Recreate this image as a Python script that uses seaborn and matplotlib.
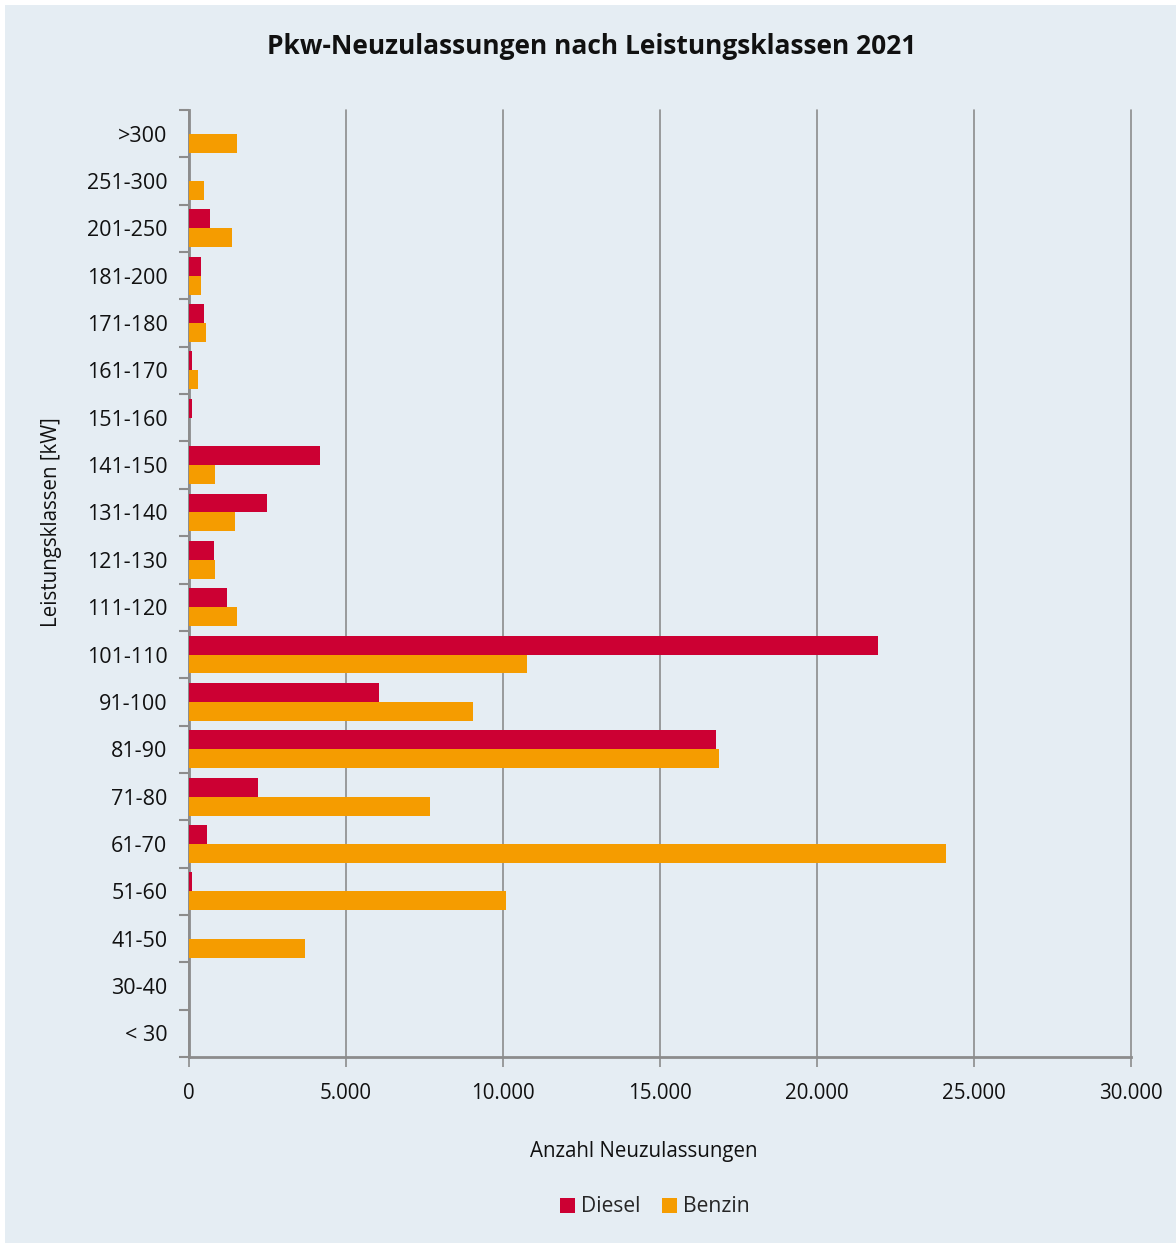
import matplotlib
matplotlib.use("Agg")
import matplotlib.pyplot as plt
from matplotlib.patches import Rectangle
from matplotlib.ticker import FuncFormatter, FixedLocator
import seaborn as sns
import pandas as pd

# Power classes, top to bottom
klassen = [">300", "251-300", "201-250", "181-200", "171-180", "161-170",
           "151-160", "141-150", "131-140", "121-130", "111-120", "101-110",
           "91-100", "81-90", "71-80", "61-70", "51-60", "41-50", "30-40", "< 30"]

diesel = [0, 0, 670, 380, 470, 100, 90, 4170, 2480, 800, 1210, 21940,
          6050, 16780, 2200, 570, 100, 0, 0, 0]
benzin = [1530, 480, 1370, 390, 540, 290, 0, 830, 1470, 830, 1530, 10760,
          9040, 16880, 7680, 24110, 10100, 3690, 0, 0]

kraftstoffe = ["Diesel", "Benzin"]
farben = {"Diesel": "#cc0033", "Benzin": "#f59c00"}

df = pd.DataFrame({
    "Leistungsklasse": klassen * 2,
    "Kraftstoff": ["Diesel"] * len(klassen) + ["Benzin"] * len(klassen),
    "Anzahl": diesel + benzin,
})

sns.set_theme(style="white")
plt.rcParams["font.family"] = ["Open Sans", "DejaVu Sans"]

bg = "#e5edf3"
grau = "#8c8c8c"

fig = plt.figure(figsize=(11.76, 12.45), dpi=100, facecolor="white")
fig.patches.append(Rectangle((5 / 1176, 2 / 1245), 1 - 5 / 1176, 1 - 7 / 1245,
                             transform=fig.transFigure, facecolor=bg,
                             edgecolor="none", zorder=-10))

ax = fig.add_axes([189 / 1176, 1 - 1057 / 1245, (1131 - 189) / 1176, (1057 - 110) / 1245])
ax.set_facecolor(bg)

sns.barplot(data=df, y="Leistungsklasse", x="Anzahl", hue="Kraftstoff",
            order=klassen, hue_order=kraftstoffe, palette=farben,
            orient="h", width=0.8, saturation=1, ax=ax, legend=True,
            linewidth=0, zorder=3)

ax.set_xlim(0, 30000)
ax.set_ylim(len(klassen) - 0.5, -0.5)
ax.set_xticks(range(0, 30001, 5000))
ax.xaxis.set_major_formatter(FuncFormatter(lambda v, p: f"{int(v):,}".replace(",", ".")))
ax.grid(axis="x", color=grau, linewidth=1.2, zorder=0)
ax.set_axisbelow(True)
for gl in ax.get_xgridlines():
    gl.set_clip_on(False)

# Category boundary ticks on the y axis, labels centred without ticks
ax.yaxis.set_minor_locator(FixedLocator([i - 0.5 for i in range(len(klassen) + 1)]))
ax.tick_params(axis="y", which="major", length=0, pad=15.5, labelsize=15.5, colors="#111111")
ax.tick_params(axis="y", which="minor", length=7, width=1.5, color=grau, left=True)
ax.tick_params(axis="x", which="major", length=7, width=1.2, color=grau, bottom=True,
               pad=12, labelsize=14.8, labelcolor="#111111")

for s in ["top", "right"]:
    ax.spines[s].set_visible(False)
for s in ["left", "bottom"]:
    ax.spines[s].set_color(grau)
    ax.spines[s].set_linewidth(2)

ax.set_xlabel("")
ax.set_ylabel("")

fig.text(644 / 1176, 1 - 1152 / 1245, "Anzahl Neuzulassungen",
         ha="center", va="center", fontsize=14.8, color="#111111")
fig.text(52 / 1176, 1 - 522 / 1245, "Leistungsklassen [kW]", rotation=90,
         ha="center", va="center", fontsize=14.8, color="#111111")
fig.text(592 / 1176, 1 - 46 / 1245, "Pkw-Neuzulassungen nach Leistungsklassen 2021",
         ha="center", va="center", fontsize=19, fontweight="bold", color="#111111")

handles, labels = ax.get_legend_handles_labels()
ax.get_legend().remove()
fig.legend(handles, labels, loc="center", bbox_to_anchor=(655 / 1176, 1 - 1207 / 1245),
           ncol=2, frameon=False, fontsize=15.2, handlelength=0.72, handleheight=0.72,
           handletextpad=0.3, columnspacing=1.0)

fig.savefig("out.png", dpi=100, facecolor="white")
